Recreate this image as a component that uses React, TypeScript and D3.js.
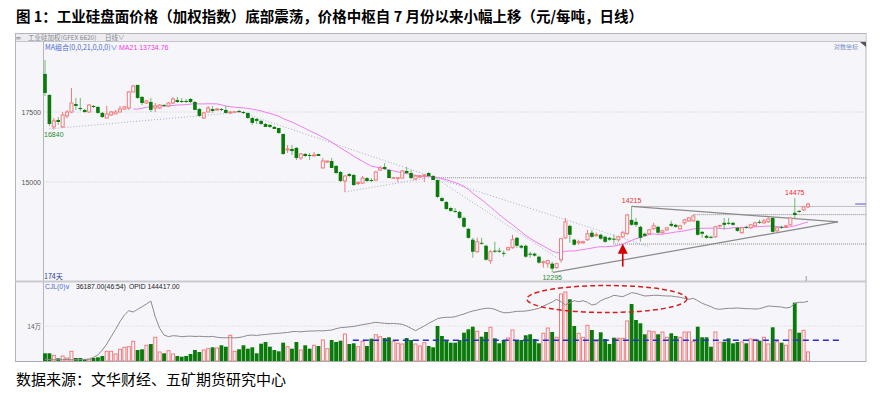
import * as d3 from 'd3';

// daily bars: [open, high, low, close]
const ohlc: [number, number, number, number][] = [
  [19030, 19620, 18130, 18250], [18170, 18200, 16970, 17045], [16935, 17270, 16840, 17160], [17195, 17310, 17010, 17120],
  [16935, 17500, 16895, 17385], [17350, 17580, 17270, 17500], [17500, 18450, 17465, 17850], [17810, 18050, 17580, 17735],
  [17655, 18050, 17540, 17615], [17580, 17615, 17465, 17500], [17500, 17810, 17465, 17770], [17735, 17770, 17655, 17695],
  [17695, 17735, 17425, 17465], [17465, 17500, 17270, 17310], [17270, 17735, 17270, 17425], [17385, 17540, 17350, 17500],
  [17425, 17580, 17425, 17500], [17500, 17735, 17500, 17615], [17615, 17735, 17580, 17695], [17655, 18330, 17580, 18290],
  [18290, 18575, 18290, 18535], [18575, 18575, 18010, 18050], [18090, 18130, 17770, 17850], [17850, 17970, 17810, 17930],
  [17890, 18050, 17500, 17580], [17655, 17850, 17500, 17735], [17655, 17810, 17615, 17770], [17770, 17810, 17695, 17735],
  [17735, 17890, 17695, 17850], [17850, 18090, 17810, 18010], [17970, 18090, 17850, 17890], [17930, 18050, 17850, 17890],
  [17930, 18010, 17850, 17890], [18010, 18050, 17850, 17890], [17890, 17930, 17580, 17580], [17615, 17655, 17310, 17350],
  [17270, 17500, 17235, 17465], [17500, 17735, 17500, 17655], [17615, 17735, 17465, 17540], [17580, 17655, 17540, 17615],
  [17615, 17655, 17540, 17580], [17580, 17735, 17465, 17465], [17465, 17540, 17425, 17500], [17500, 17540, 17465, 17510],
  [17540, 17580, 17465, 17500], [17500, 17540, 17425, 17465], [17465, 17465, 17235, 17270], [17270, 17310, 17010, 17085],
  [17235, 17270, 17045, 17160], [17160, 17195, 17010, 17045], [17045, 17085, 16935, 16935], [17010, 17045, 16895, 16935],
  [16935, 16970, 16860, 16860], [16895, 16895, 16675, 16710], [16675, 16675, 15920, 15955], [16095, 16275, 15990, 16130],
  [16130, 16275, 15920, 16060], [16170, 16200, 15745, 15815], [15815, 15990, 15745, 15955], [15955, 15990, 15850, 15885],
  [15920, 15990, 15745, 15885], [15885, 16025, 15885, 15920], [15955, 15955, 15885, 15885], [15470, 15815, 15470, 15710],
  [15675, 15710, 15640, 15710], [15710, 15815, 15470, 15470], [15540, 15570, 15265, 15300], [15335, 15370, 15000, 15035],
  [15035, 15235, 14675, 15200], [15265, 15300, 15165, 15200], [15235, 15265, 14870, 14900], [14950, 15030, 14900, 14980],
  [14965, 15200, 14935, 15130], [15130, 15165, 15000, 15035], [15065, 15130, 15000, 15035], [15065, 15370, 15035, 15335],
  [15400, 15540, 15370, 15470], [15505, 15640, 15400, 15435], [15400, 15435, 15130, 15130], [15130, 15165, 15100, 15140],
  [15130, 15165, 15000, 15140], [15130, 15400, 15130, 15370], [15370, 15505, 15265, 15300], [15300, 15400, 15100, 15130],
  [15100, 15235, 15065, 15200], [15165, 15235, 15130, 15200], [15200, 15265, 15000, 15235], [15300, 15335, 15165, 15200],
  [15200, 15235, 15065, 15065], [15065, 15065, 14480, 14515], [14480, 14515, 14355, 14385], [14355, 14385, 14105, 14135],
  [14165, 14200, 14045, 14075], [14075, 14165, 14015, 14045], [14045, 14075, 13830, 13860], [13860, 13890, 13560, 13590],
  [13530, 13560, 13240, 13265], [13210, 13265, 12695, 12865], [12865, 13265, 12835, 13150], [13120, 13265, 13065, 13095],
  [13035, 13065, 12615, 12640], [12615, 12920, 12530, 12865], [12895, 13150, 12835, 12865], [12895, 12980, 12835, 12865],
  [12835, 12895, 12725, 12810], [12920, 13005, 12895, 12980], [12980, 13355, 12950, 13210], [13265, 13295, 12980, 13035],
  [13035, 13065, 12950, 12980], [13035, 13065, 12695, 12725], [12810, 12865, 12695, 12780], [12810, 12835, 12725, 12755],
  [12725, 12755, 12530, 12560], [12560, 12615, 12420, 12585], [12530, 12640, 12420, 12615], [12530, 12585, 12295, 12395],
  [12420, 12560, 12395, 12530], [12640, 13240, 12560, 13240], [13265, 13860, 13240, 13740], [13620, 13650, 13120, 13355],
  [13210, 13240, 13035, 13065], [13120, 13210, 13065, 13150], [13120, 13180, 13100, 13150], [13210, 13500, 13180, 13385],
  [13415, 13500, 13265, 13295], [13325, 13415, 13295, 13355], [13355, 13385, 13210, 13240], [13295, 13325, 13120, 13150],
  [13265, 13295, 13180, 13210], [13240, 13355, 13120, 13210], [13210, 13325, 13150, 13295], [13295, 13470, 13265, 13415],
  [13385, 13985, 13355, 13950], [13800, 14215, 13620, 13650], [13740, 13860, 13590, 13650], [13590, 13620, 13150, 13265],
  [13385, 13415, 13295, 13325], [13385, 13530, 13355, 13500], [13530, 13710, 13500, 13620], [13590, 13620, 13385, 13415],
  [13415, 13500, 13385, 13470], [13500, 13590, 13470, 13560], [13680, 13770, 13590, 13620], [13650, 13680, 13560, 13590],
  [13530, 13650, 13500, 13620], [13710, 13830, 13650, 13800], [13770, 13890, 13740, 13860], [13770, 13950, 13740, 13920],
  [13770, 13800, 13325, 13355], [13440, 13470, 13265, 13385], [13325, 13355, 13240, 13265], [13295, 13325, 13240, 13265],
  [13295, 13620, 13265, 13590], [13620, 13650, 13560, 13630], [13710, 13860, 13500, 13650], [13710, 13860, 13650, 13680],
  [13710, 13740, 13620, 13650], [13560, 13590, 13440, 13470], [13415, 13590, 13385, 13560], [13590, 13620, 13530, 13560],
  [13560, 13680, 13530, 13650], [13620, 13740, 13590, 13710], [13740, 13800, 13680, 13710], [13710, 13830, 13680, 13770],
  [13740, 13890, 13710, 13830], [13860, 13890, 13415, 13440], [13470, 13590, 13440, 13560], [13590, 13620, 13530, 13560],
  [13590, 13650, 13560, 13620], [13650, 13890, 13620, 13860], [14015, 14475, 13830, 13950], [14075, 14105, 14015, 14045],
  [14105, 14230, 14075, 14200], [14200, 14325, 14165, 14290],
];

// CJL (volume)
const volumes = [
  30800, 30800, 22800, 10800, 20000, 12000, 38800, 12000, 12000, 6800, 6800, 12000, 14800, 20000, 38800, 38800,
  28000, 46800, 54800, 57200, 78800, 44000, 46800, 62800, 68000, 94800, 36000, 30800, 41200, 28000, 20000, 17200,
  20000, 28000, 44000, 36000, 44000, 49200, 54800, 52000, 62800, 57200, 102800, 38800, 46800, 62800, 49200, 54800,
  30800, 69200, 76000, 57200, 44000, 38800, 73200, 57200, 49200, 76000, 44000, 62800, 49200, 62800, 60000, 84000,
  49200, 84000, 76000, 81200, 108000, 68000, 70800, 57200, 78800, 60000, 89200, 105200, 97200, 92000, 94800, 78800,
  70800, 68000, 92000, 84000, 68000, 60000, 73200, 60000, 54800, 140000, 100000, 81200, 73200, 73200, 84000, 113200,
  126800, 137200, 118800, 97200, 116000, 134800, 90800, 70800, 84000, 92000, 124000, 84000, 84000, 102800, 106800, 88000,
  70800, 110800, 132000, 116000, 94800, 268000, 276000, 246800, 140000, 110800, 94800, 142800, 124000, 78800, 114800, 88000,
  68000, 93200, 90800, 90800, 160000, 228000, 164000, 150800, 106800, 120000, 117200, 106800, 116000, 94800, 110800, 100000,
  94800, 116000, 116000, 78800, 137200, 94800, 94800, 57200, 116000, 74800, 77200, 90800, 70800, 76000, 76000, 70800,
  88000, 86800, 81200, 94800, 68000, 134800, 77200, 73200, 62800, 124000, 233200, 113200, 122800, 36187,
];

// OPID (open interest)
const openInterest = [
  57500, 57200, 57000, 56800, 57100, 57300, 57000, 56900, 57200, 57400, 57800, 60550, 64000, 71500, 80500, 91450,
  102550, 113950, 124000, 130450, 128500, 132550, 136450, 140500, 145000, 121450, 104050, 94000, 91450, 92950, 92500, 91450,
  92050, 92300, 91800, 92100, 91700, 91400, 91900, 90550, 89950, 89800, 90100, 89700, 90300, 91450, 93550, 93800,
  93300, 94200, 94800, 95500, 96200, 96550, 97200, 97800, 98950, 99300, 98700, 99500, 99900, 100000, 100400, 100200,
  100800, 101500, 103450, 105000, 105550, 106200, 106800, 108200, 109500, 110600, 111800, 113050, 112200, 111550, 111000, 111300,
  110800, 110050, 107500, 104050, 100450, 104050, 107500, 111550, 115000, 118450, 119950, 120550, 120550, 121450, 123550, 125500,
  128050, 130000, 131500, 133000, 134050, 134050, 132550, 129550, 127450, 127450, 128500, 129550, 129550, 130000, 131050, 132550,
  134050, 137500, 140500, 143500, 147550, 143950, 139000, 142450, 145450, 143950, 145450, 143050, 139000, 140500, 145450, 148450,
  150550, 153550, 152500, 151450, 154450, 157450, 156550, 154450, 152500, 152950, 153550, 153550, 152950, 152500, 152500, 151450,
  150550, 149050, 147550, 149050, 145450, 141550, 139000, 136450, 133450, 132550, 133450, 134050, 134050, 134500, 134050, 133450,
  133450, 133000, 133450, 135550, 137500, 137050, 136450, 136000, 134500, 135550, 141550, 143050, 143050, 144417,
];

const priceTicks = [17500, 15000];
const volumeTicks = [140000];

// drawn trend lines: [fromIndex, fromPrice, toIndex, toPrice]
const dottedTrends: [number, number, number, number][] = [
  [1, 16860, 45, 17500],
  [44.2, 17500, 88, 15165],
  [68, 14675, 88, 15165],
  [88, 15165, 137.2, 13000],
  [88.9, 15100, 116.1, 12695],
];
// horizontal levels: [fromIndex, price]
const levels: [number, number][] = [
  [88, 15140],
  [133, 14215],
  [147, 13960],
  [128.8, 13085],
];
const triangleLines: [number, number, number, number][] = [
  [133, 14215, 179.8, 13740],
  [115.2, 12295, 179.8, 13740],
];
const extremes = [
  { i: 2, price: 16840, text: '16840', up: false },
  { i: 115, price: 12295, text: '12295', up: false },
  { i: 133, price: 14215, text: '14215', up: true },
  { i: 170, price: 14475, text: '14475', up: true },
];

const BG = '#f5f5fa';
const GREEN = '#0a7a0a';
const GREEN_WICK = '#72b872';
const PINK = '#f07c7c';
const SMALL = 'Liberation Sans, Arial, sans-serif';
const CJK = 'Noto Sans CJK SC, sans-serif';

const closes = ohlc.map((d) => d[3]);
const ma21 = closes.map((_, i) => (i < 20 ? null : d3.mean(closes.slice(i - 20, i + 1))!));

const App = () => {
  const left = 43.5;
  const right = 866;
  const x = d3.scaleLinear().domain([0, ohlc.length - 1]).range([45, 808]);
  const y = d3.scaleLog().domain([15000, 17500]).range([182, 112]);
  const yVol = d3.scaleLinear().domain([0, 140000]).range([361, 326]);
  const yOi = d3.scaleLinear().domain([55000, 145000]).range([361, 301]);

  const maLine = d3
    .line<number | null>()
    .defined((d) => d != null)
    .x((_, i) => x(i))
    .y((d) => y(d as number));
  const oiLine = d3
    .line<number>()
    .x((_, i) => x(i))
    .y((d) => yOi(d));

  const arrowX = x(131);
  const arrowTip = y(13095);
  const arrowTail = y(12450);

  return (
    <svg width={890} height={393} style={{ position: 'absolute', left: 0, top: 0 }}>
      <rect width={890} height={393} fill="#fff" />
      <text x={16} y={22} fontFamily={CJK} fontWeight={700} fontSize={14.5} fill="#000">
        图 1：工业硅盘面价格（加权指数）底部震荡，价格中枢自 7 月份以来小幅上移（元/每吨，日线）
      </text>

      {/* panel frame */}
      <rect x={15.5} y={33.5} width={right - 15.5} height={328} fill={BG} stroke="#b4b4bc" />
      <rect x={16} y={34} width={right - 16.5} height={7.5} fill="#ececf2" />
      <line x1={15.5} x2={right} y1={41.5} y2={41.5} stroke="#c4c4cc" />
      <line x1={left} x2={left} y1={41.5} y2={361.5} stroke="#b4b4bc" />
      <line x1={15.5} x2={right} y1={281.5} y2={281.5} stroke="#cacad0" strokeWidth={2} />
      <text x={16} y={40} fontFamily={SMALL} fontSize={6.5} fill="#666">∞</text>
      <text x={28} y={40} fontFamily={CJK} fontSize={6.5} fill="#888">工业硅加权(GFEX 6620)</text>
      <text x={105} y={40} fontFamily={CJK} fontSize={6.5} fill="#888">日线∨</text>
      <text x={45} y={50} fontFamily={CJK} fontSize={7} fill="#4a6ad0">MA组合(0,0,21,0,0,0)∨</text>
      <text x={119} y={50} fontFamily={SMALL} fontSize={7} fill="#f03ce0">MA21 13734.76</text>
      <text x={858} y={49} textAnchor="end" fontFamily={CJK} fontSize={6} fill="#7a90c8">对数坐标</text>
      <path d={`M860,42 L866,42 L866,47 Z`} fill="#555" />

      {/* price grid */}
      {priceTicks.map((t) => (
        <g key={t}>
          <line x1={left} x2={right} y1={y(t)} y2={y(t)} stroke="#c8c8cc" strokeDasharray="1,2" />
          <text x={41} y={y(t) + 2.5} textAnchor="end" fontFamily={SMALL} fontSize={7} fill="#555">
            {t}
          </text>
        </g>
      ))}

      {/* annotations */}
      {dottedTrends.map(([i0, p0, i1, p1], k) => (
        <line key={k} x1={x(i0)} y1={y(p0)} x2={x(i1)} y2={y(p1)} stroke="#aaaad0" strokeDasharray="1,2" />
      ))}
      {levels.map(([i0, p], k) => (
        <line key={k} x1={x(i0)} x2={right} y1={y(p)} y2={y(p)} stroke="#8a8a8a" strokeDasharray="1,1" />
      ))}
      {triangleLines.map(([i0, p0, i1, p1], k) => (
        <line key={k} x1={x(i0)} y1={y(p0)} x2={x(i1)} y2={y(p1)} stroke="#8a8a8a" strokeWidth={1.2} />
      ))}
      <line x1={x(183.7)} x2={right} y1={y(14290)} y2={y(14290)} stroke="#8c8cd0" strokeWidth={1.5} />

      <path d={maLine(ma21) ?? ''} fill="none" stroke="#f07cf0" strokeWidth={1} />

      {/* candles */}
      {ohlc.map(([o, h, l, c], i) => {
        const up = c > o;
        const cx = x(i);
        const top = y(Math.max(o, c));
        const bot = y(Math.min(o, c));
        return (
          <g key={i}>
            <line x1={cx} x2={cx} y1={y(h)} y2={y(l)} stroke={up ? PINK : GREEN_WICK} />
            {up ? (
              <rect x={cx - 1.5} y={top} width={3} height={Math.max(bot - top, 0.5)} fill={BG} stroke={PINK} />
            ) : (
              <rect x={cx - 1.8} y={top} width={3.6} height={Math.max(bot - top, 1)} fill={GREEN} />
            )}
          </g>
        );
      })}

      {extremes.map((e) => (
        <text
          key={e.text}
          x={x(e.i)}
          y={e.up ? y(e.price) - 3 : y(e.price) + 7.5}
          textAnchor="middle"
          fontFamily={SMALL}
          fontSize={7}
          fill={e.up ? '#e83030' : '#2a8a2a'}
        >
          {e.text}
        </text>
      ))}

      {/* red arrow */}
      <line x1={arrowX} x2={arrowX} y1={arrowTip + 8} y2={arrowTail} stroke="#d40000" strokeWidth={1.6} />
      <path
        d={`M${arrowX},${arrowTip} L${arrowX + 5},${arrowTip + 10} L${arrowX - 5},${arrowTip + 10} Z`}
        fill="#d40000"
      />

      <text x={44} y={279} fontFamily={CJK} fontSize={7} fill="#2a3a90">174天</text>
      <line x1={x(172.6)} x2={x(172.6)} y1={276} y2={281} stroke="#999" />

      {/* volume panel */}
      <text x={45} y={289} fontFamily={SMALL} fontSize={6.8} fill="#4a6ad0">CJL(0)∨</text>
      <text x={76} y={289} fontFamily={SMALL} fontSize={6.8} fill="#222">36187.00(46:54)</text>
      <text x={129} y={289} fontFamily={SMALL} fontSize={6.8} fill="#222">OPID 144417.00</text>
      {volumeTicks.map((t) => (
        <g key={t}>
          <line x1={left} x2={right} y1={yVol(t)} y2={yVol(t)} stroke="#d0d0d4" strokeDasharray="1,2" />
          <text x={41} y={yVol(t) + 2.5} textAnchor="end" fontFamily={CJK} fontSize={6.5} fill="#666">
            {t / 10000}万
          </text>
        </g>
      ))}
      {volumes.map((v, i) => {
        const [o, , , c] = ohlc[i];
        const up = c > o;
        const cx = x(i);
        return up ? (
          <rect key={i} x={cx - 1.5} y={yVol(v)} width={3} height={361 - yVol(v)} fill={BG} stroke={PINK} />
        ) : (
          <rect key={i} x={cx - 1.9} y={yVol(v)} width={3.8} height={361 - yVol(v)} fill={GREEN} />
        );
      })}
      <path d={oiLine(openInterest) ?? ''} fill="none" stroke="#8c8c8c" strokeWidth={1} />
      <line
        x1={x(69.8)}
        x2={x(180.3)}
        y1={yVol(82800)}
        y2={yVol(82800)}
        stroke="#2a2ad8"
        strokeWidth={1.5}
        strokeDasharray="6,4"
      />
      <ellipse
        cx={x(127.4)}
        cy={yOi(148000)}
        rx={80}
        ry={13.5}
        fill="none"
        stroke="#d42020"
        strokeWidth={1.5}
        strokeDasharray="5,3"
      />
      <line x1={15.5} x2={right} y1={361.5} y2={361.5} stroke="#a8a8b0" />

      <text x={16} y={385} fontFamily={CJK} fontSize={15} fill="#000">
        数据来源：文华财经、五矿期货研究中心
      </text>
    </svg>
  );
};

export default App;
